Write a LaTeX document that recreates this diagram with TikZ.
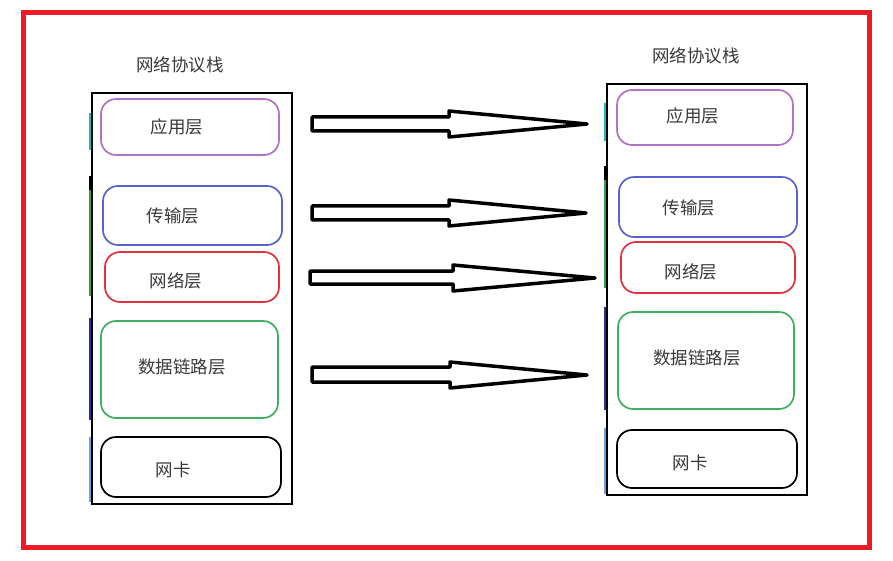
\documentclass[tikz,border=0pt]{standalone}
\usepackage{fontspec}
\newfontfamily\cjk{Noto Sans CJK SC}
\definecolor{frame}{HTML}{ED1C24}
\definecolor{lpurple}{HTML}{B472C4}
\definecolor{lblue}{HTML}{5A62D2}
\definecolor{lred}{HTML}{E3323F}
\definecolor{lgreen}{HTML}{3FB061}
\definecolor{txt}{HTML}{3A3A3A}
\definecolor{scyan}{HTML}{20B8C0}
\definecolor{sgreen}{HTML}{30A040}
\definecolor{snavy}{HTML}{303088}
\definecolor{slight}{HTML}{6AA2E0}
\begin{document}
\begin{tikzpicture}[x=1pt,y=-1pt,
  stackbox/.style={draw=black,line width=2pt},
  layer/.style={draw=#1,line width=1.7pt,rounded corners=15pt,fill=white},
  lbl/.style={font=\cjk\fontsize{17.5}{17.5}\selectfont,text=txt,inner sep=0pt},
  blockarrow/.style={draw=black,line width=3.5pt,line join=round,fill=white},
  side/.style={line width=2pt,draw=#1}]
\useasboundingbox (0,0) rectangle (893,561);
\draw[frame,line width=5pt] (23.5,13) rectangle (869.5,547);

% titles
\node[lbl] (tL) at (180,65) {网络协议栈};
\node[lbl] (tR) at (696,56) {网络协议栈};

% left stack
\draw[side=scyan] (89.8,113) -- (89.8,150);
\draw[side=black] (89.8,176) -- (89.8,190);
\draw[side=sgreen] (89.8,190) -- (89.8,296);
\draw[side=snavy] (89.8,318) -- (89.8,420);
\draw[side=slight] (89.8,437) -- (89.8,502);
\node[stackbox,minimum width=200pt,minimum height=411pt,inner sep=0pt] (L) at (192,298.5) {};

\node[layer=lpurple,minimum width=178pt,minimum height=56pt] (L1) at (190,127) {};
\node[layer=lblue,minimum width=179pt,minimum height=59pt] (L2) at (192.5,215.5) {};
\node[layer=lred,minimum width=174pt,minimum height=50pt] (L3) at (192,277) {};
\node[layer=lgreen,minimum width=177pt,minimum height=97pt] (L4) at (189.5,369.5) {};
\node[layer=black,minimum width=180pt,minimum height=60pt] (L5) at (191,467) {};
\node[lbl] (L1t) at (177,127) {应用层};
\node[lbl] (L2t) at (173,216) {传输层};
\node[lbl] (L3t) at (176,281) {网络层};
\node[lbl] (L4t) at (182,367) {数据链路层};
\node[lbl] (L5t) at (173,470) {网卡};

% right stack
\draw[side=scyan] (604.8,103) -- (604.8,141);
\draw[side=black] (604.8,166) -- (604.8,180);
\draw[side=sgreen] (604.8,180) -- (604.8,288);
\draw[side=snavy] (604.8,307) -- (604.8,410);
\draw[side=slight] (604.8,428) -- (604.8,494);
\node[stackbox,minimum width=200pt,minimum height=411pt,inner sep=0pt] (R) at (707,289.5) {};

\node[layer=lpurple,minimum width=176pt,minimum height=55pt] (R1) at (705,117.5) {};
\node[layer=lblue,minimum width=178pt,minimum height=60pt] (R2) at (708,207) {};
\node[layer=lred,minimum width=174pt,minimum height=51pt] (R3) at (708,267.5) {};
\node[layer=lgreen,minimum width=176pt,minimum height=97pt] (R4) at (706,360.5) {};
\node[layer=black,minimum width=180pt,minimum height=58pt] (R5) at (707,459) {};
\node[lbl] (R1t) at (693,116) {应用层};
\node[lbl] (R2t) at (689,208) {传输层};
\node[lbl] (R3t) at (691,272) {网络层};
\node[lbl] (R4t) at (697,358) {数据链路层};
\node[lbl] (R5t) at (690,463) {网卡};

% block arrows
\draw[blockarrow] (312,117) -- (449,117) -- (449,111) -- (587,124) -- (449,137) -- (449,131) -- (312,131) -- cycle;
\draw[blockarrow] (312,206) -- (449,206) -- (449,200) -- (586,213) -- (449,226) -- (449,220) -- (312,220) -- cycle;
\draw[blockarrow] (310,271) -- (453,271) -- (453,265) -- (595,278) -- (453,291) -- (453,284) -- (310,284) -- cycle;
\draw[blockarrow] (312,367) -- (450,367) -- (450,362) -- (587,375) -- (450,388) -- (450,382) -- (312,382) -- cycle;
\end{tikzpicture}
\end{document}
